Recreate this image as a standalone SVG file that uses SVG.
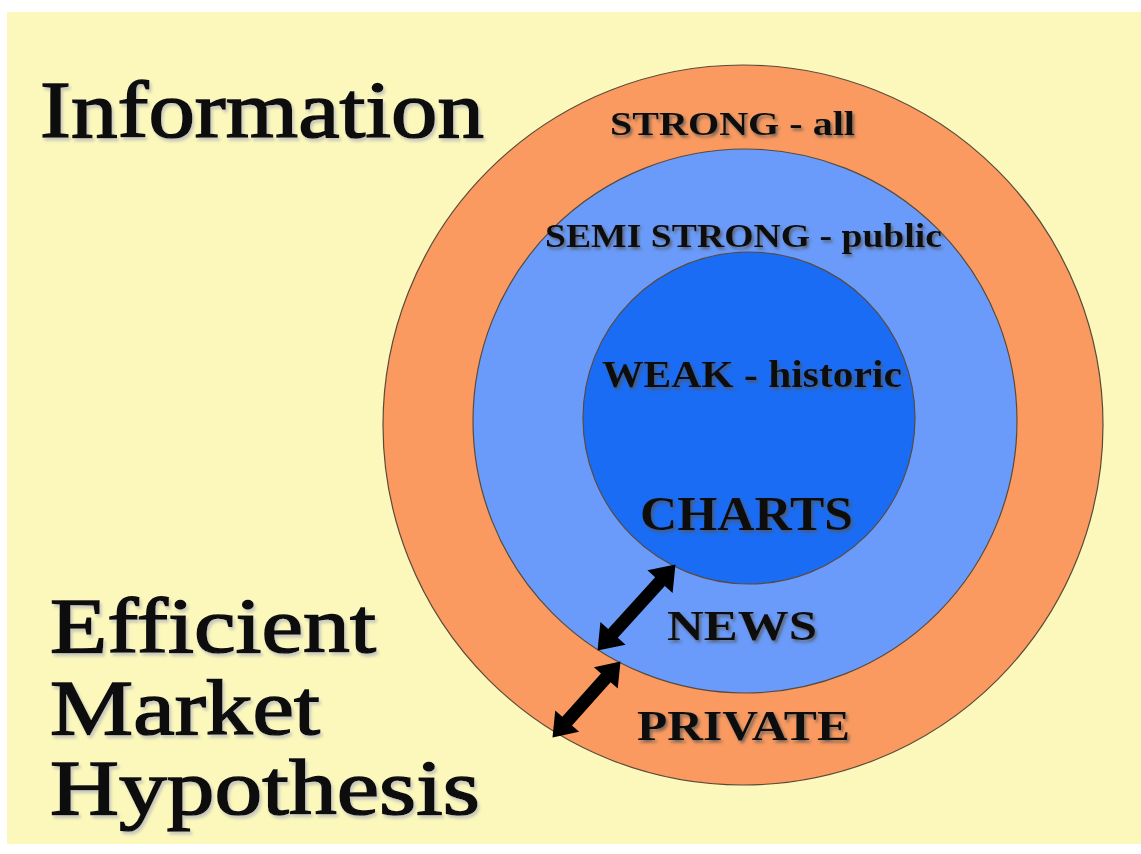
<svg xmlns="http://www.w3.org/2000/svg" width="1141" height="854" viewBox="0 0 1141 854">
<style>
.lbl{font-family:"Liberation Serif","Times New Roman",serif;font-weight:bold;fill:#111;filter:url(#sh)}
.big{font-family:"Liberation Serif","Times New Roman",serif;fill:#111;stroke:#111;stroke-width:1.6;filter:url(#sh2)}
.ring{stroke:#5a4a3a;stroke-width:1.2}
.arrow{fill:#000}
</style>
<defs>
<filter id="sh" x="-10%" y="-20%" width="120%" height="150%">
<feDropShadow dx="2" dy="2.5" stdDeviation="1.4" flood-color="#555" flood-opacity="0.75"/>
</filter>
<filter id="sh2" x="-10%" y="-20%" width="120%" height="150%">
<feDropShadow dx="2" dy="3" stdDeviation="1.5" flood-color="#bbb" flood-opacity="0.8"/>
</filter>
</defs>
<rect x="0" y="0" width="1141" height="854" fill="#ffffff"/>
<rect x="7" y="12" width="1134" height="832" fill="#FCF8BB"/>
<g id="title-information">
<text class="big" x="40" y="137" font-size="80" textLength="444" lengthAdjust="spacingAndGlyphs">Information</text>
</g>
<g id="title-emh">
<text class="big" x="50" y="652" font-size="78" textLength="326" lengthAdjust="spacingAndGlyphs">Efficient</text>
<text class="big" x="50" y="734" font-size="78" textLength="270" lengthAdjust="spacingAndGlyphs">Market</text>
<text class="big" x="50" y="814" font-size="78" textLength="430" lengthAdjust="spacingAndGlyphs">Hypothesis</text>
</g>
<g id="strong">
<circle class="ring" cx="743" cy="425" r="360" fill="#FA9A60"/>
<text class="lbl" x="610" y="135" font-size="34" textLength="245" lengthAdjust="spacingAndGlyphs">STRONG - all</text>
<text class="lbl" x="637" y="740" font-size="42" textLength="213" lengthAdjust="spacingAndGlyphs">PRIVATE</text>
</g>
<g id="semi-strong">
<circle class="ring" cx="745" cy="421" r="272" fill="#6A9BFA"/>
<text class="lbl" x="545" y="247" font-size="34" textLength="397" lengthAdjust="spacingAndGlyphs">SEMI STRONG - public</text>
<text class="lbl" x="667" y="640" font-size="43" textLength="150" lengthAdjust="spacingAndGlyphs">NEWS</text>
</g>
<g id="weak">
<circle class="ring" cx="749" cy="418" r="166" fill="#1A6CF4"/>
<text class="lbl" x="602" y="387" font-size="37" textLength="300" lengthAdjust="spacingAndGlyphs">WEAK - historic</text>
<text class="lbl" x="640" y="530" font-size="48" textLength="213" lengthAdjust="spacingAndGlyphs">CHARTS</text>
</g>
<g id="connectors">
<path class="arrow" transform="translate(636.5 607.5) rotate(-47.8)" d="M -58 0 L -35 -17 L -35 -6.5 L 35 -6.5 L 35 -17 L 58 0 L 35 17 L 35 6.5 L -35 6.5 L -35 17 Z"/>
<path class="arrow" transform="translate(586.5 699.5) rotate(-48.2)" d="M -51 0 L -29 -16 L -29 -6.5 L 29 -6.5 L 29 -16 L 51 0 L 29 16 L 29 6.5 L -29 6.5 L -29 16 Z"/>
</g>
</svg>
